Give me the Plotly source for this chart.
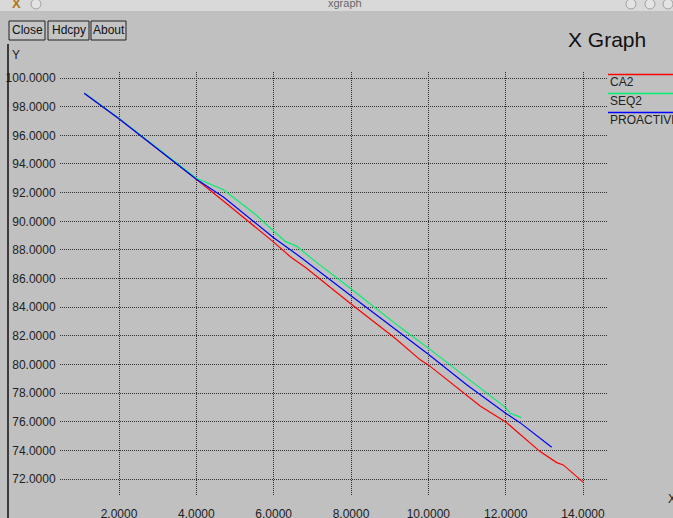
import plotly.graph_objects as go

# ---- data ----
series_names = ["CA2", "SEQ2", "PROACTIVE"]
series_colors = ["#ff0000", "#00f070", "#0000ff"]

ca2_x = [1.1, 2.0, 4.0, 4.7, 6.0, 6.43, 6.85, 8.0, 9.14, 9.79, 10.0, 11.34, 12.0, 12.89, 13.32, 13.49, 14.0]
ca2_y = [98.93, 97.16, 92.93, 91.42, 88.55, 87.53, 86.72, 84.23, 81.84, 80.33, 79.98, 77.11, 76.0, 73.93, 73.16, 73.0, 71.8]

seq2_x = [1.1, 2.0, 4.0, 4.7, 5.5, 6.0, 6.3, 6.6, 7.1, 8.0, 9.27, 10.0, 11.0, 12.0, 12.12, 12.41]
seq2_y = [98.95, 97.18, 93.0, 92.2, 90.55, 89.35, 88.6, 88.25, 87.15, 85.3, 82.6, 81.15, 79.05, 77.0, 76.6, 76.3]

pro_x = [1.1, 2.0, 4.0, 4.7, 6.0, 6.43, 6.68, 8.0, 9.27, 10.0, 11.0, 12.0, 12.37, 13.19]
pro_y = [98.93, 97.16, 92.93, 91.7, 88.85, 88.0, 87.53, 84.8, 82.19, 80.72, 78.58, 76.6, 75.95, 74.23]

x_ticks = [2, 4, 6, 8, 10, 12, 14]
y_ticks = [72, 74, 76, 78, 80, 82, 84, 86, 88, 90, 92, 94, 96, 98, 100]

W, H = 673, 518
L, R, T, B = 60, 66, 72, 23
PW, PH = W - L - R, H - T - B
BG = "#c0c0c0"
FONT = "Liberation Sans"


def px(x):
    return (x - L) / PW


def py(y):
    return (H - B - y) / PH


def label(text, x, y, size=12, color="#222", xanchor="center", yanchor="middle"):
    return dict(text=text, xref="paper", yref="paper", x=px(x), y=py(y),
                xanchor=xanchor, yanchor=yanchor, showarrow=False,
                font=dict(family=FONT, size=size, color=color))


fig = go.Figure()
for name, color, xs, ys in zip(series_names, series_colors,
                               [ca2_x, seq2_x, pro_x], [ca2_y, seq2_y, pro_y]):
    fig.add_trace(go.Scatter(x=xs, y=ys, mode="lines", name=name,
                             line=dict(color=color, width=1.2), showlegend=False))

shapes = []
annotations = []

# window title bar
shapes.append(dict(type="rect", xref="paper", yref="paper",
                   x0=px(0), x1=px(W), y0=py(11), y1=py(-2),
                   fillcolor="#d9d9d9", line=dict(width=0), layer="below"))
annotations.append(label("xgraph", 345, 3, size=11, color="#666"))
annotations.append(label("<b>X</b>", 16, 3, size=13, color="#b07818"))
for cx in [36, 631, 650, 668]:
    shapes.append(dict(type="circle", xref="paper", yref="paper",
                       x0=px(cx - 5), x1=px(cx + 5), y0=py(9), y1=py(-1),
                       line=dict(color="#a0a0a0", width=1), fillcolor="#e4e4e4"))

# left frame border
shapes.append(dict(type="line", xref="paper", yref="paper",
                   x0=px(8), x1=px(8), y0=py(44), y1=py(H),
                   line=dict(color="#111", width=1.5)))

# buttons
for text, x0, x1 in [("Close", 9, 45), ("Hdcpy", 48, 89), ("About", 91, 126)]:
    shapes.append(dict(type="rect", xref="paper", yref="paper",
                       x0=px(x0), x1=px(x1), y0=py(40), y1=py(21),
                       fillcolor="#c4c4c4", line=dict(color="#222", width=1)))
    annotations.append(label(text, (x0 + x1) / 2, 30.5, color="#111"))

# titles
annotations.append(label("X Graph", 607, 40, size=21, color="#111"))
annotations.append(label("Y", 10, 55, xanchor="left"))
annotations.append(label("X", 666, 499, xanchor="left"))

# legend (xgraph style: line above label)
for i, (name, color) in enumerate(zip(series_names, series_colors)):
    ly = 74.5 + 19 * i
    shapes.append(dict(type="line", xref="paper", yref="paper",
                       x0=px(608), x1=px(W), y0=py(ly), y1=py(ly),
                       line=dict(color=color, width=1.5)))
    annotations.append(label(name, 608, ly + 7.5, xanchor="left"))

axis_common = dict(showgrid=True, gridcolor="#303030", gridwidth=1, griddash="1px,1px",
                   zeroline=False, showline=False, automargin=False,
                   ticks="outside", tickcolor=BG,
                   tickfont=dict(family=FONT, size=12, color="#222"))

fig.update_layout(
    width=W, height=H,
    margin=dict(l=L, r=R, t=T, b=B, pad=0, autoexpand=False),
    paper_bgcolor=BG, plot_bgcolor=BG,
    shapes=shapes, annotations=annotations,
    font=dict(family=FONT, size=12, color="#222"),
    xaxis=dict(range=[0.474, 14.62], tickvals=x_ticks,
               ticktext=["%.4f" % v for v in x_ticks], ticklen=8, **axis_common),
    yaxis=dict(range=[70.9, 100.42], tickvals=y_ticks,
               ticktext=["%.4f" % v for v in y_ticks], ticklen=1, **axis_common),
)

fig.write_html("out.html", config={"displayModeBar": False},
               post_script="document.body.style.margin='0';")
